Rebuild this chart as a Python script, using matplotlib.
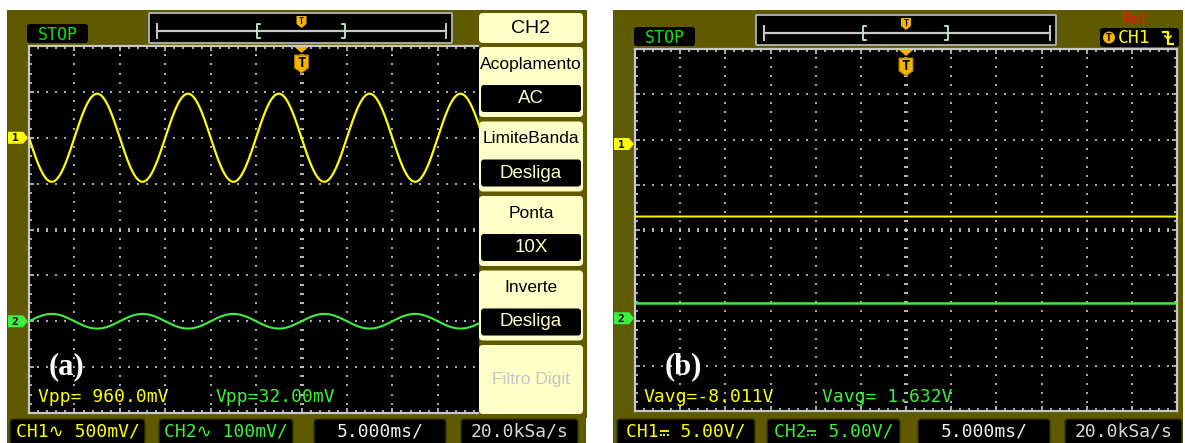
import numpy as np
import matplotlib
matplotlib.use("Agg")
import matplotlib.pyplot as plt
from matplotlib.patches import FancyBboxPatch, Rectangle, Polygon, Circle

# ---------------- acquisition settings ----------------
SAMPLE_RATE_KSPS = 20.0      # kSa/s
TIME_PER_DIV_MS = 5.0
N_DIV_X = 12
N_DIV_Y = 8

# ---------------- capture (a): AC coupling ----------------
a_freq_hz = 100.0
a_ch1_vpp = 0.960            # V
a_ch2_vpp = 0.032            # V
a_ch1_scale = 0.5            # V/div
a_ch2_scale = 0.1            # V/div
a_ch1_offset = 2.0           # div
a_ch2_offset = -2.0          # div
a_status = ["CH1\u223f 500mV/", "CH2\u223f 100mV/", "5.000ms/", "20.0kSa/s"]

# ---------------- capture (b): DC coupling ----------------
b_ch1_avg = -8.011           # V
b_ch2_avg = 1.632            # V
b_ch1_scale = 5.0            # V/div
b_ch2_scale = 5.0            # V/div
b_ch1_offset = 1.9           # div
b_ch2_offset = -1.95         # div
# "#" marks the slot of the DC-coupling sign, drawn separately
b_status = ["CH1# 5.00V/", "CH2# 5.00V/", "5.000ms/", "20.0kSa/s"]

# ---------------- channel menu ----------------
menu_header = "CH2"
menu_titles = ["Acoplamento", "LimiteBanda", "Ponta", "Inverte", "Filtro Digit"]
menu_values = ["AC", "Desliga", "10X", "Desliga", None]

# ---------------- colours ----------------
OLIVE = "#5f5a00"
CREAM = "#ffffc8"
YELLOW = "#ffff00"
GREEN = "#3cf03c"
GRID = "#a8a8a8"
BORDER = "#c8c8c8"
ORANGE = "#f2b400"
MONO = ["DejaVu Sans Mono", "DejaVu Sans"]
SANS = ["Liberation Sans", "DejaVu Sans"]
STATUS_PT = 13
CHAR_W = 0.602 * STATUS_PT * 100 / 72   # DejaVu Sans Mono advance in px

W, H = 1185, 443
fig = plt.figure(figsize=(W / 100, H / 100), dpi=100)
fig.patch.set_facecolor("white")


def px_axes(x0, y0, x1, y1, z):
    ax = fig.add_axes([x0 / W, (H - y1) / H, (x1 - x0) / W, (y1 - y0) / H])
    ax.set_zorder(z)
    return ax


def px_canvas(z):
    ax = fig.add_axes([0, 0, 1, 1])
    ax.set_xlim(0, W)
    ax.set_ylim(H, 0)
    ax.axis("off")
    ax.set_zorder(z)
    ax.patch.set_alpha(0)
    return ax


bg = px_canvas(0)
sa = px_axes(29, 46, 574, 413, 1)
sb = px_axes(635, 49, 1177, 411, 1)
ov = px_canvas(3)


def box(ax, x0, y0, x1, y1, fc, ec="none", lw=0, r=3, z=2):
    p = FancyBboxPatch((x0, y0), x1 - x0, y1 - y0,
                       boxstyle=f"round,pad=0,rounding_size={r}",
                       fc=fc, ec=ec, lw=lw, zorder=z)
    ax.add_patch(p)
    return p


def to_px(ax, x, y):
    disp = ax.transData.transform((x, y))
    return ov.transData.inverted().transform(disp)


# olive instrument frames
bg.add_patch(Rectangle((7, 10), 579, 440, fc=OLIVE, ec="none"))
bg.add_patch(Rectangle((613, 10), 570, 440, fc=OLIVE, ec="none"))


def draw_grid(ax):
    ax.set_facecolor("black")
    half_t = N_DIV_X / 2 * TIME_PER_DIV_MS
    half_v = N_DIV_Y / 2
    ax.set_xlim(-half_t, half_t)
    ax.set_ylim(-half_v, half_v)
    sub_t = TIME_PER_DIV_MS / 5
    ydots = np.arange(-half_v + 0.2, half_v - 0.1, 0.2)
    xdots = np.arange(-half_t + sub_t, half_t - sub_t / 2, sub_t)
    for k in range(-N_DIV_X // 2 + 1, N_DIV_X // 2):
        if k == 0:
            continue
        ax.plot(np.full_like(ydots, k * TIME_PER_DIV_MS), ydots, "s",
                ms=1.6, mew=0, color=GRID, zorder=1)
    for k in range(-N_DIV_Y // 2 + 1, N_DIV_Y // 2):
        if k == 0:
            continue
        ax.plot(xdots, np.full_like(xdots, k), "s", ms=1.6, mew=0,
                color=GRID, zorder=1)
    ax.plot(xdots, np.zeros_like(xdots), "|", ms=3.5, mew=1.3,
            color=BORDER, zorder=1)
    ax.plot(np.zeros_like(ydots), ydots, "_", ms=3.5, mew=1.3,
            color=BORDER, zorder=1)
    for s in ax.spines.values():
        s.set_color(BORDER)
        s.set_linewidth(1.6)
    ax.set_xticks(np.arange(-half_t, half_t + 0.1, TIME_PER_DIV_MS))
    ax.set_xticks(np.arange(-half_t, half_t + 0.1, sub_t), minor=True)
    ax.set_yticks(np.arange(-half_v, half_v + 0.1, 1))
    ax.set_yticks(np.arange(-half_v, half_v + 0.01, 0.2), minor=True)
    ax.tick_params(which="both", direction="in", top=True, right=True,
                   labelbottom=False, labelleft=False, color=BORDER,
                   width=1.2)
    ax.tick_params(which="major", length=3.5)
    ax.tick_params(which="minor", length=2.5)


draw_grid(sa)
draw_grid(sb)

# sample times across the screen
n_half = int(N_DIV_X / 2 * TIME_PER_DIV_MS * SAMPLE_RATE_KSPS)
t_ms = np.arange(-n_half, n_half + 1) / SAMPLE_RATE_KSPS
phase = 2 * np.pi * a_freq_hz * t_ms / 1000.0

# (a) traces
a_ch1 = -(a_ch1_vpp / 2) * np.sin(phase)
a_ch2 = (a_ch2_vpp / 2) * np.sin(phase)
sa.plot(t_ms, a_ch1_offset + a_ch1 / a_ch1_scale, color=YELLOW, lw=1.6, zorder=3)
sa.plot(t_ms, a_ch2_offset + a_ch2 / a_ch2_scale, color=GREEN, lw=1.5, zorder=3)

# (b) traces
b_ch1 = np.full_like(t_ms, b_ch1_avg)
b_ch2 = np.full_like(t_ms, b_ch2_avg)
sb.plot(t_ms, b_ch1_offset + b_ch1 / b_ch1_scale, color=YELLOW, lw=1.4, zorder=3)
sb.plot(t_ms, b_ch2_offset + b_ch2 / b_ch2_scale, color=GREEN, lw=1.8, zorder=3)


def channel_marker(ax, offset, label, color):
    x1, yc = to_px(ax, ax.get_xlim()[0], offset)
    x1 -= 1
    x0 = x1 - 20
    pts = [(x0, yc - 6), (x1 - 5, yc - 6), (x1, yc), (x1 - 5, yc + 6), (x0, yc + 6)]
    ov.add_patch(Polygon(pts, closed=True, fc=color, ec="none", zorder=5))
    ov.text(x0 + 7, yc + 0.5, label, ha="center", va="center", fontsize=8,
            fontweight="bold", family=MONO, color="black", zorder=6)


channel_marker(sa, a_ch1_offset, "1", YELLOW)
channel_marker(sa, a_ch2_offset, "2", GREEN)
channel_marker(sb, b_ch1_offset, "1", YELLOW)
channel_marker(sb, b_ch2_offset, "2", GREEN)


def trigger_marker(ax):
    xc, ytop = to_px(ax, 0, ax.get_ylim()[1])
    ov.add_patch(Polygon([(xc - 7, ytop + 1), (xc + 7, ytop + 1), (xc, ytop + 7)],
                         closed=True, fc=ORANGE, ec="none", zorder=5))
    ov.add_patch(Polygon([(xc - 7, ytop + 9), (xc + 7, ytop + 9), (xc + 7, ytop + 22),
                          (xc, ytop + 27), (xc - 7, ytop + 22)],
                         closed=True, fc=ORANGE, ec="#a07000", lw=0.8, zorder=5))
    ov.text(xc, ytop + 16.5, "T", ha="center", va="center", fontsize=10,
            fontweight="bold", family=MONO, color="black", zorder=6)
    return xc


def top_bar(x0, y0, x1, y1, xc, bl, br):
    box(ov, x0, y0, x1, y1, "black", ec="#b4b4b4", lw=1.3, r=1)
    ym = (y0 + y1) / 2 + 3
    ov.plot([x0 + 8, x1 - 6], [ym, ym], color="#c8c8c8", lw=1.6, zorder=4)
    for xx in (x0 + 8, x1 - 6):
        ov.plot([xx, xx], [ym - 7, ym + 7], color="#c8c8c8", lw=1.4, zorder=4)
    ov.plot([bl + 3, bl, bl, bl + 3], [ym - 7, ym - 7, ym + 7, ym + 7],
            color="#b8f0c8", lw=1.3, zorder=5)
    ov.plot([br - 3, br, br, br - 3], [ym - 7, ym - 7, ym + 7, ym + 7],
            color="#b8f0c8", lw=1.3, zorder=5)
    ov.add_patch(Polygon([(xc - 5, y0 + 3), (xc + 5, y0 + 3), (xc + 5, y0 + 11),
                          (xc, y0 + 15), (xc - 5, y0 + 11)],
                         closed=True, fc=ORANGE, ec="none", zorder=6))
    ov.text(xc, y0 + 8.5, "T", ha="center", va="center", fontsize=6,
            fontweight="bold", family=MONO, color="black", zorder=7)


def stop_box(x0, y0, x1, y1):
    box(ov, x0, y0, x1, y1, "black", r=3)
    ov.text((x0 + x1) / 2, (y0 + y1) / 2 + 1, "STOP", ha="center", va="center",
            fontsize=12, family=MONO, color="#10e010", zorder=5)


def dc_sign(xc, yc, color):
    # solid bar over a dashed bar (DC coupling sign)
    ov.plot([xc - 4.5, xc + 4.5], [yc - 2, yc - 2], color=color, lw=1.3,
            solid_capstyle="butt", zorder=6)
    for dx in (-4.5, -1, 2.5):
        ov.plot([xc + dx, xc + dx + 2], [yc + 2, yc + 2], color=color, lw=1.3,
                solid_capstyle="butt", zorder=6)


def status_row(spans, labels, colors, y0):
    for (x0, x1), lab, col in zip(spans, labels, colors):
        box(ov, x0, y0, x1, y0 + 26, "black", ec="#3a3700", lw=1, r=3)
        yc = y0 + 12.5
        if "#" in lab:
            start = (x0 + x1) / 2 - len(lab) * CHAR_W / 2
            ov.text(start, yc, lab.replace("#", " "), ha="left", va="center",
                    fontsize=STATUS_PT, family=MONO, color=col, zorder=5)
            dc_sign(start + (lab.index("#") + 0.5) * CHAR_W, yc + 1, col)
        else:
            ov.text((x0 + x1) / 2, yc, lab, ha="center", va="center",
                    fontsize=STATUS_PT, family=MONO, color=col, zorder=5)


# ---------- panel (a) ----------
xa = trigger_marker(sa)
stop_box(27, 24, 88, 43)
top_bar(149, 13, 452, 43, xa, 257, 345)
status_row([(10, 145), (159, 293), (314, 446), (461, 578)], a_status,
           [YELLOW, GREEN, "#f0f0f0", "#d8d8d8"], 419)
ov.text(38, 397, f"Vpp= {a_ch1_vpp * 1000:.1f}mV", ha="left", va="center",
        fontsize=13, family=MONO, color=YELLOW, zorder=5)
ov.text(216, 397, f"Vpp={a_ch2_vpp * 1000:.2f}mV", ha="left", va="center",
        fontsize=13, family=MONO, color=GREEN, zorder=5)
ov.text(66, 367, "(a)", ha="center", va="center", fontsize=22,
        fontweight="bold", family=["Liberation Serif", "DejaVu Serif"],
        color="white", zorder=5)

# channel menu on the right side of screen (a)
ov.add_patch(Rectangle((478.5, 10), 108, 408, fc=OLIVE, ec="none", zorder=1))
box(ov, 479, 13, 583, 43, CREAM, r=4)
ov.text(531, 28.5, menu_header, ha="center", va="center", fontsize=14,
        family=SANS, color="black", zorder=5)
item_tops = [47, 121.5, 196, 270.5, 345]
for top, title, value in zip(item_tops, menu_titles, menu_values):
    bottom = top + 70 if value else 414
    box(ov, 479, top, 583, bottom, CREAM, r=4)
    if value:
        ov.text(531, top + 17, title, ha="center", va="center", fontsize=12.5,
                family=SANS, color="black", zorder=5)
        box(ov, 481, top + 38, 581, top + 65, "black", r=3, z=3)
        ov.text(531, top + 51.5, value, ha="center", va="center", fontsize=13.5,
                family=SANS, color=CREAM, zorder=5)
    else:
        ov.text(531, (top + bottom) / 2, title, ha="center", va="center",
                fontsize=12.5, family=SANS, color="#c4c4c4", zorder=5)

# ---------- panel (b) ----------
xb = trigger_marker(sb)
stop_box(634, 27, 695, 46)
top_bar(756, 15, 1056, 45, xb, 863, 948)
status_row([(617, 755), (767, 900), (918, 1050), (1065, 1182)], b_status,
           [YELLOW, GREEN, "#f0f0f0", "#d8d8d8"], 419)
ov.text(643, 397, f"Vavg={b_ch1_avg:.3f}V", ha="left", va="center",
        fontsize=13, family=MONO, color=YELLOW, zorder=5)
ov.text(822, 397, f"Vavg= {b_ch2_avg:.3f}V", ha="left", va="center",
        fontsize=13, family=MONO, color=GREEN, zorder=5)
ov.text(683, 367, "(b)", ha="center", va="center", fontsize=22,
        fontweight="bold", family=["Liberation Serif", "DejaVu Serif"],
        color="white", zorder=5)

# trigger source indicator
ov.text(1136, 19, "Rmt", ha="center", va="center", fontsize=11,
        family=MONO, color="#ff1010", zorder=5)
box(ov, 1100, 28, 1179, 47, "black", r=3)
ov.add_patch(Circle((1109, 37.5), 6, fc=ORANGE, ec="none", zorder=5))
ov.text(1109, 38, "T", ha="center", va="center", fontsize=7,
        fontweight="bold", family=MONO, color="black", zorder=6)
ov.text(1134, 38, "CH1", ha="center", va="center", fontsize=13,
        family=MONO, color=YELLOW, zorder=5)
ov.plot([1163, 1168, 1168, 1173], [32, 32, 44, 44], color=YELLOW, lw=1.6, zorder=5)
ov.plot([1165, 1168, 1171], [36, 39, 36], color=YELLOW, lw=1.2, zorder=5)

fig.savefig("out.png", dpi=100, facecolor="white")
